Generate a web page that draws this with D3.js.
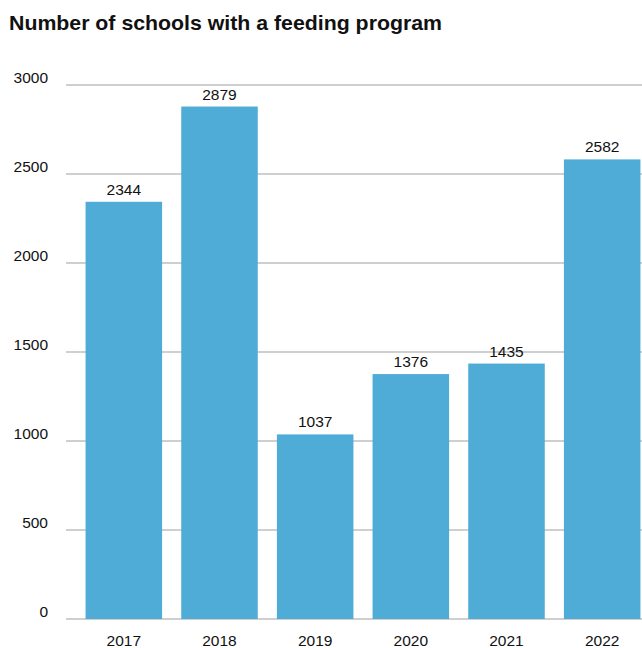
<!DOCTYPE html>
<html>
<head>
<meta charset="utf-8">
<script src="https://cdn.jsdelivr.net/npm/d3@7"></script>
<style>
  html, body { margin: 0; padding: 0; background: #fff; }
  svg { display: block; font-family: "Liberation Sans", Arial, Helvetica, sans-serif; }
</style>
</head>
<body>
<svg id="chart" width="642" height="648"></svg>
<script>
const title = "Number of schools with a feeding program";
const years = ["2017", "2018", "2019", "2020", "2021", "2022"];
const schools = [2344, 2879, 1037, 1376, 1435, 2582];
const yTicks = [0, 500, 1000, 1500, 2000, 2500, 3000];

const svg = d3.select("#chart");
const W = 642;

const x = d3.scaleBand().domain(years).range([76, 650]).paddingInner(0.2).paddingOuter(0.1);
const y = d3.scaleLinear().domain([0, 3000]).range([619, 85]);

svg.append("text")
  .attr("x", 9).attr("y", 30)
  .attr("font-size", 20.5).attr("font-weight", "bold").attr("fill", "#111")
  .attr("textLength", 433).attr("lengthAdjust", "spacingAndGlyphs")
  .text(title);

// gridlines
svg.append("g").selectAll("line").data(yTicks).join("line")
  .attr("x1", 66).attr("x2", W)
  .attr("y1", d => y(d)).attr("y2", d => y(d))
  .attr("stroke", "#cfcfcf").attr("stroke-width", 2.2);

// y tick labels
svg.append("g").selectAll("text").data(yTicks).join("text")
  .attr("x", 48).attr("y", d => y(d) - 2)
  .attr("text-anchor", "end").attr("font-size", 15.5).attr("fill", "#111")
  .text(d => d);

// bars
svg.append("g").selectAll("rect").data(years).join("rect")
  .attr("x", d => x(d)).attr("width", x.bandwidth())
  .attr("y", (d, i) => y(schools[i]))
  .attr("height", (d, i) => y(0) - y(schools[i]))
  .attr("fill", "#4eacd7");

// value labels
svg.append("g").selectAll("text").data(years).join("text")
  .attr("x", d => x(d) + x.bandwidth() / 2)
  .attr("y", (d, i) => y(schools[i]) - 7)
  .attr("text-anchor", "middle").attr("font-size", 15.5).attr("fill", "#111")
  .text((d, i) => schools[i]);

// x labels
svg.append("g").selectAll("text").data(years).join("text")
  .attr("x", d => x(d) + x.bandwidth() / 2)
  .attr("y", 646)
  .attr("text-anchor", "middle").attr("font-size", 15.5).attr("fill", "#111")
  .text(d => d);
</script>
</body>
</html>
